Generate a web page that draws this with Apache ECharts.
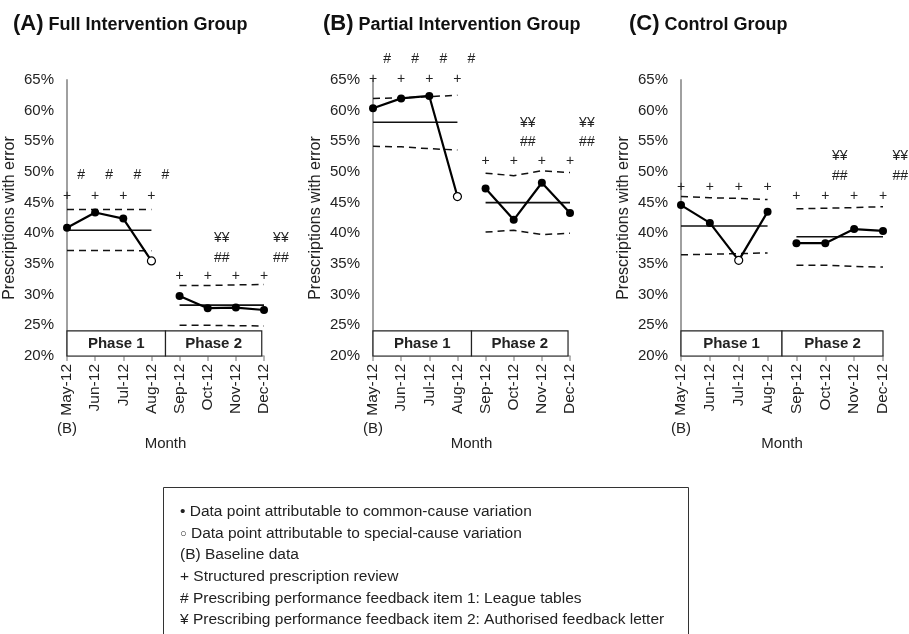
<!DOCTYPE html>
<html>
<head>
<meta charset="utf-8">
<script src="https://cdn.jsdelivr.net/npm/echarts@6/dist/echarts.min.js"></script>
<style>
  html, body { margin: 0; padding: 0; background: #fff; }
  #chart { width: 909px; height: 634px; }
</style>
</head>
<body>
<div id="chart"></div>
<script>
// Month categories shared by all three run charts
const months = ['May-12', 'Jun-12', 'Jul-12', 'Aug-12', 'Sep-12', 'Oct-12', 'Nov-12', 'Dec-12'];

// (A) Full intervention group: % of prescriptions with error
const rateA = [40.9, 43.4, 42.4, 35.5, 29.8, 27.8, 27.9, 27.5];
const centreA = [40.5, 28.3];
const uclA = [43.9, 43.9, 43.9, 43.9, 31.5, 31.5, 31.6, 31.65];
const lclA = [37.2, 37.2, 37.2, 37.15, 25.0, 25.0, 24.95, 24.9];
const specialA = [3];
const reviewA = [46.1, 33.0];
const tablesA = [49.5, 36.0];
const letterA = [null, 39.2];

// (B) Partial intervention group
const rateB = [60.4, 62.0, 62.4, 46.0, 47.3, 42.2, 48.25, 43.3];
const centreB = [58.1, 45.0];
const uclB = [62.0, 62.1, 62.3, 62.5, 49.8, 49.4, 50.2, 49.9];
const lclB = [54.2, 54.1, 53.8, 53.6, 40.2, 40.5, 39.8, 40.0];
const specialB = [3];
const reviewB = [65.1, 51.7];
const tablesB = [68.4, 54.9];
const letterB = [null, 57.9];

// (C) Control group
const rateC = [44.6, 41.7, 35.6, 43.5, 38.4, 38.4, 40.7, 40.4];
const centreC = [41.2, 39.45];
const uclC = [46.0, 45.8, 45.7, 45.5, 44.0, 44.1, 44.2, 44.35];
const lclC = [36.5, 36.6, 36.7, 36.8, 34.8, 34.8, 34.6, 34.5];
const specialC = [2];
const reviewC = [47.6, 46.1];
const tablesC = [null, 49.3];
const letterC = [null, 52.6];

// Timing of feedback items (month index, between month points)
const feedbackPhase1 = [0.5, 1.5, 2.5, 3.5];
const feedbackPhase2 = [5.5, 7.6];

const phaseNames = ['Phase 1', 'Phase 2'];
const phaseTop = 24.1;

const legendLines = [
  '{s|\u2022} Data point attributable to common-cause variation',
  '{o|\u25CB} Data point attributable to special-cause variation',
  '(B) Baseline data',
  '+ Structured prescription review',
  '# Prescribing performance feedback item 1: League tables',
  '\u00A5 Prescribing performance feedback item 2: Authorised feedback letter'
];

const FONT = '"Liberation Sans", Arial, Helvetica, sans-serif';
const INK = '#222';
const AXIS_GREY = '#a0a0a0';

const panels = [
  { tag: '(A)', title: 'Full Intervention Group', left: 67, width: 197, titleLeft: 8, phaseEnd: 6.92,
    rate: rateA, centre: centreA, ucl: uclA, lcl: lclA, special: specialA, review: reviewA, tables: tablesA, letter: letterA },
  { tag: '(B)', title: 'Partial Intervention Group', left: 373, width: 197, titleLeft: 318, phaseEnd: 6.93,
    rate: rateB, centre: centreB, ucl: uclB, lcl: lclB, special: specialB, review: reviewB, tables: tablesB, letter: letterB },
  { tag: '(C)', title: 'Control Group', left: 681, width: 202, titleLeft: 624, phaseEnd: 7.0,
    rate: rateC, centre: centreC, ucl: uclC, lcl: lclC, special: specialC, review: reviewC, tables: tablesC, letter: letterC }
];

const GRID_TOP = 80, GRID_H = 276;
const phaseRanges = [[0, 3], [4, 7]];

function segment(values, from, to) {
  const out = [];
  for (let i = from; i <= to; i++) out.push([i, values[i]]);
  return out;
}

const grids = [], xAxes = [], yAxes = [], series = [], titles = [], graphics = [];

panels.forEach((p, gi) => {
  grids.push({ left: p.left, top: GRID_TOP, width: p.width, height: GRID_H });

  xAxes.push({
    gridIndex: gi, type: 'value', min: 0, max: 7, interval: 1,
    axisLine: { show: true, lineStyle: { color: AXIS_GREY, width: 1.5 } },
    axisTick: { show: true, length: 5, lineStyle: { color: AXIS_GREY, width: 1.5 } },
    splitLine: { show: false },
    axisLabel: { rotate: 90, margin: 8, fontSize: 15.5, color: INK, fontFamily: FONT,
      formatter: v => months[Math.round(v)] },
    name: 'Month', nameLocation: 'middle', nameGap: 80,
    nameTextStyle: { fontSize: 15, color: INK, fontFamily: FONT }
  });

  yAxes.push({
    gridIndex: gi, type: 'value', min: 20, max: 65, interval: 5,
    axisLine: { show: true, lineStyle: { color: AXIS_GREY, width: 2 } },
    axisTick: { show: false },
    splitLine: { show: false },
    axisLabel: { margin: 13, fontSize: 15, color: INK, fontFamily: FONT, formatter: '{value}%' },
    name: 'Prescriptions with error', nameLocation: 'middle', nameGap: 49,
    nameTextStyle: { fontSize: 16, color: INK, fontFamily: FONT }
  });

  const axisRef = { xAxisIndex: gi, yAxisIndex: gi };

  phaseRanges.forEach(([from, to], ph) => {
    // centre line
    series.push(Object.assign({
      type: 'line', symbol: 'none', silent: true, z: 3,
      lineStyle: { color: '#111', width: 1.6 },
      data: [[from, p.centre[ph]], [to, p.centre[ph]]]
    }, axisRef));
    // control limits
    [p.ucl, p.lcl].forEach(lim => {
      series.push(Object.assign({
        type: 'line', symbol: 'none', silent: true, z: 3,
        lineStyle: { color: '#111', width: 1.5, type: [7, 5] },
        data: segment(lim, from, to)
      }, axisRef));
    });
    // observed rate
    series.push(Object.assign({
      type: 'line', symbol: 'circle', symbolSize: 8, z: 5,
      lineStyle: { color: '#000', width: 2.2 },
      itemStyle: { color: '#000' },
      data: segment(p.rate, from, to).map(d => p.special.includes(d[0])
        ? { value: d, itemStyle: { color: '#fff', borderColor: '#000', borderWidth: 1.2 } }
        : d)
    }, axisRef));
  });

  // phase boxes
  series.push(Object.assign({
    type: 'line', data: [], silent: true,
    markArea: {
      silent: true,
      itemStyle: { color: '#fff', borderColor: '#222', borderWidth: 1.2 },
      label: { show: true, position: 'inside', fontSize: 15, fontWeight: 'bold', color: INK, fontFamily: FONT },
      data: [
        [{ name: phaseNames[0], xAxis: 0, yAxis: 20 }, { xAxis: 3.5, yAxis: phaseTop }],
        [{ name: phaseNames[1], xAxis: 3.5, yAxis: 20 }, { xAxis: p.phaseEnd, yAxis: phaseTop }]
      ]
    }
  }, axisRef));

  // intervention markers
  const marks = [];
  phaseRanges.forEach(([from, to], ph) => {
    for (let i = from; i <= to; i++) marks.push([i, p.review[ph], '+']);
  });
  if (p.tables[0] != null) feedbackPhase1.forEach(x => marks.push([x, p.tables[0], '#']));
  if (p.tables[1] != null) feedbackPhase2.forEach(x => marks.push([x, p.tables[1], '##']));
  if (p.letter[1] != null) feedbackPhase2.forEach(x => marks.push([x, p.letter[1], '\u00A5\u00A5']));
  series.push(Object.assign({
    type: 'scatter', symbolSize: 0, clip: false, silent: true, z: 6,
    itemStyle: { color: INK },
    label: { show: true, position: 'inside', fontSize: 14, color: INK, fontFamily: FONT,
      textBorderWidth: 0, opacity: 1,
      formatter: prm => prm.data[2] },
    data: marks
  }, axisRef));

  titles.push({
    left: p.titleLeft, top: 8,
    text: '{a|' + p.tag + '} {b|' + p.title + '}',
    textStyle: { fontFamily: FONT, rich: {
      a: { fontSize: 22, fontWeight: 'bold', color: '#111', fontFamily: FONT },
      b: { fontSize: 18, fontWeight: 'bold', color: '#111', fontFamily: FONT, padding: [3, 0, 0, 0] }
    } }
  });

  // baseline marker under the first month
  graphics.push({
    type: 'text', x: p.left, y: 429,
    style: { text: '(B)', fontSize: 15, fill: INK, fontFamily: FONT, textAlign: 'center', textVerticalAlign: 'middle' }
  });
});

// key box
graphics.push({
  type: 'rect', shape: { x: 163.5, y: 487.5, width: 525, height: 200 },
  style: { fill: 'none', stroke: '#333', lineWidth: 1 }
});
legendLines.forEach((line, i) => {
  graphics.push({
    type: 'text', x: 180, y: 512 + i * 21.6,
    style: { text: line, fontSize: 15.5, fill: INK, fontFamily: FONT, textVerticalAlign: 'middle',
      rich: { s: { fontSize: 15.5, fill: INK }, o: { fontSize: 11, fill: INK } } }
  });
});

const chart = echarts.init(document.getElementById('chart'), null, { renderer: 'canvas' });
chart.setOption({
  backgroundColor: '#fff',
  animation: false,
  textStyle: { fontFamily: FONT },
  title: titles,
  grid: grids,
  xAxis: xAxes,
  yAxis: yAxes,
  series: series,
  graphic: graphics
});
</script>
</body>
</html>
